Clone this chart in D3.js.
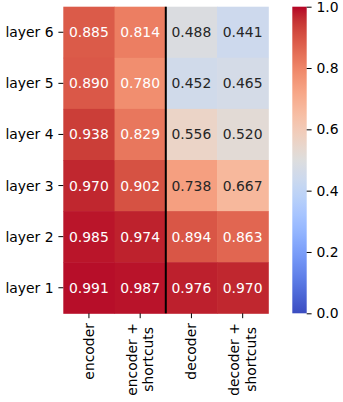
<!DOCTYPE html>
<html>
<head>
<meta charset="utf-8">
<script src="https://cdn.jsdelivr.net/npm/d3@7"></script>
<style>
  html, body { margin: 0; padding: 0; background: #fff; }
  svg text { font-family: "DejaVu Sans", sans-serif; }
</style>
</head>
<body>
<svg id="chart" width="343" height="402"></svg>
<script>
// data
const layers = ["layer 6", "layer 5", "layer 4", "layer 3", "layer 2", "layer 1"];
const columns = [["encoder"], ["encoder +", "shortcuts"], ["decoder"], ["decoder +", "shortcuts"]];
const encoder = [0.885, 0.890, 0.938, 0.970, 0.985, 0.991];
const encoderShortcuts = [0.814, 0.780, 0.829, 0.902, 0.974, 0.987];
const decoder = [0.488, 0.452, 0.556, 0.738, 0.894, 0.976];
const decoderShortcuts = [0.441, 0.465, 0.520, 0.667, 0.863, 0.970];
const series = [encoder, encoderShortcuts, decoder, decoderShortcuts];
const cbarTicks = [0, 0.2, 0.4, 0.6, 0.8, 1.0];

// matplotlib coolwarm (Moreland) control points
const coolwarm = [
  [59,76,192],[68,90,204],[77,104,215],[87,117,225],[98,130,234],[108,142,241],
  [119,154,247],[130,165,251],[141,176,254],[152,185,255],[163,194,255],[174,201,253],
  [184,208,249],[194,213,244],[204,217,238],[213,219,230],[221,221,221],[229,216,209],
  [236,211,197],[241,204,185],[245,196,173],[247,187,160],[247,177,148],[247,166,135],
  [244,154,123],[241,141,111],[236,127,99],[229,112,88],[222,96,77],[213,80,66],
  [203,62,56],[192,40,47],[180,4,38]
];
const cmap = d3.piecewise(d3.interpolateRgb, coolwarm.map(c => d3.rgb(c[0], c[1], c[2])));
const color = d3.scaleSequential(cmap).domain([0, 1]);

function luminance(c) {
  const rgb = d3.rgb(c);
  const f = v => { v /= 255; return v <= 0.03928 ? v / 12.92 : Math.pow((v + 0.055) / 1.055, 2.4); };
  return 0.2126 * f(rgb.r) + 0.7152 * f(rgb.g) + 0.0722 * f(rgb.b);
}

const svg = d3.select("#chart");
const fs = 13.9;
const mLeft = 63.3, mRight = 268.3, mTop = 6.7, mBottom = 313.3;

const x = d3.scaleBand().domain(d3.range(columns.length)).range([mLeft, mRight]);
const y = d3.scaleBand().domain(layers).range([mTop, mBottom]);

const cells = [];
series.forEach((vals, ci) => vals.forEach((v, ri) => cells.push({ci, layer: layers[ri], v})));

const g = svg.append("g");
g.selectAll("rect.cell").data(cells).enter().append("rect")
  .attr("x", d => x(d.ci)).attr("y", d => y(d.layer))
  .attr("width", x.bandwidth() + 0.5).attr("height", y.bandwidth() + 0.5)
  .attr("fill", d => color(d.v));

g.selectAll("text.val").data(cells).enter().append("text")
  .attr("x", d => x(d.ci) + x.bandwidth() / 2)
  .attr("y", d => y(d.layer) + y.bandwidth() / 2)
  .attr("dy", "0.36em")
  .attr("text-anchor", "middle")
  .style("font-size", fs + "px")
  .attr("fill", d => luminance(color(d.v)) > 0.408 ? "#262626" : "#ffffff")
  .text(d => d.v.toFixed(3));

// separator between encoder and decoder
svg.append("line")
  .attr("x1", x(2)).attr("x2", x(2)).attr("y1", mTop).attr("y2", mBottom)
  .attr("stroke", "#000").attr("stroke-width", 2);

// y axis
const tickLen = 4.9, pad = 4.9;
layers.forEach(l => {
  const cy = y(l) + y.bandwidth() / 2;
  svg.append("line").attr("x1", mLeft - tickLen).attr("x2", mLeft).attr("y1", cy).attr("y2", cy)
    .attr("stroke", "#000").attr("stroke-width", 1);
  svg.append("text").attr("x", mLeft - tickLen - pad).attr("y", cy).attr("dy", "0.36em")
    .attr("text-anchor", "end").style("font-size", fs + "px").attr("fill", "#000").text(l);
});

// x axis with rotated, possibly two-line labels
columns.forEach((lines, ci) => {
  const cx = x(ci) + x.bandwidth() / 2;
  svg.append("line").attr("x1", cx).attr("x2", cx).attr("y1", mBottom).attr("y2", mBottom + tickLen)
    .attr("stroke", "#000").attr("stroke-width", 1);
  const lab = svg.append("g").attr("transform", `translate(${cx},${mBottom + tickLen + pad}) rotate(-90)`);
  const lh = 16.6;
  const texts = lines.map((s, i) => lab.append("text")
    .attr("y", (i - (lines.length - 1) / 2) * lh)
    .attr("dy", "0.36em")
    .attr("text-anchor", "middle")
    .style("font-size", fs + "px").attr("fill", "#000").text(s));
  const maxLen = d3.max(texts, t => t.node().getComputedTextLength());
  texts.forEach(t => t.attr("x", -maxLen / 2));
});

// colorbar
const cbLeft = 292.3, cbW = 14.4;
const cbScale = d3.scaleLinear().domain([0, 1]).range([mBottom, mTop]);
const grad = svg.append("defs").append("linearGradient").attr("id", "cb")
  .attr("x1", 0).attr("x2", 0).attr("y1", 1).attr("y2", 0);
d3.range(0, 1.0001, 0.02).forEach(t => grad.append("stop").attr("offset", t).attr("stop-color", color(t)));
svg.append("rect").attr("x", cbLeft).attr("y", mTop).attr("width", cbW).attr("height", mBottom - mTop)
  .attr("fill", "url(#cb)");
const cbAxis = d3.axisRight(cbScale).tickValues(cbarTicks).tickFormat(d3.format(".1f")).tickSize(tickLen).tickPadding(pad);
const ax = svg.append("g").attr("transform", `translate(${cbLeft + cbW},0)`).call(cbAxis);
ax.select(".domain").remove();
ax.selectAll("text").style("font-size", fs + "px").attr("fill", "#000").style("font-family", "DejaVu Sans");
ax.selectAll("line").attr("stroke", "#000");
</script>
</body>
</html>
